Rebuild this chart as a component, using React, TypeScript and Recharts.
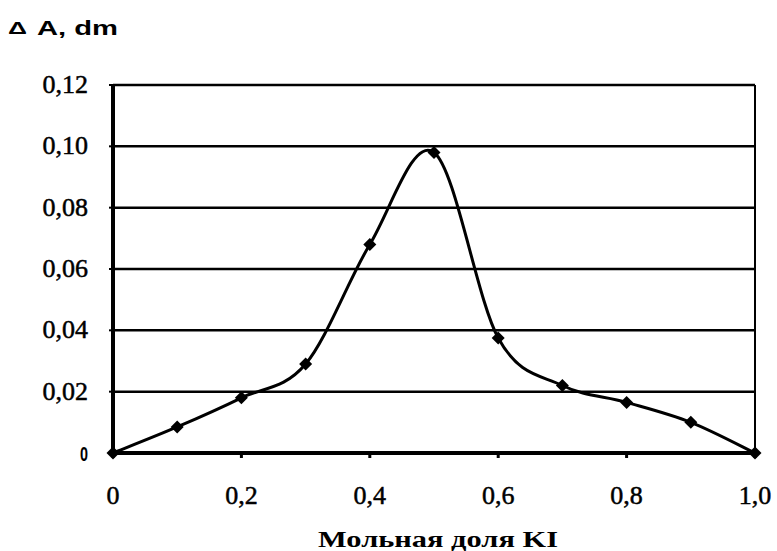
import React from "react";
import {
  LineChart,
  Line,
  XAxis,
  YAxis,
  CartesianGrid,
  ReferenceLine,
  Label,
} from "recharts";

// mole fraction of KI and measured ΔA
const moleFraction = [0, 0.1, 0.2, 0.3, 0.4, 0.5, 0.6, 0.7, 0.8, 0.9, 1.0];
const deltaA = [0, 0.0085, 0.018, 0.029, 0.068, 0.098, 0.0375, 0.022, 0.0165, 0.01, 0];

const xTicks = [0, 0.2, 0.4, 0.6, 0.8, 1.0];
const yTicks = [0, 0.02, 0.04, 0.06, 0.08, 0.1, 0.12];

const data = moleFraction.map((x, i) => ({ x, y: deltaA[i] }));

const SERIF = "'Liberation Serif', 'Times New Roman', serif";
const SANS = "'Liberation Sans', Arial, sans-serif";

// Excel-like smoothed line (Catmull-Rom through every point)
function smoothCurve(context: any) {
  let pts: number[][] = [];
  return {
    areaStart() {},
    areaEnd() {},
    lineStart() {
      pts = [];
    },
    point(x: number, y: number) {
      pts.push([x, y]);
    },
    lineEnd() {
      if (!pts.length) return;
      context.moveTo(pts[0][0], pts[0][1]);
      for (let i = 0; i < pts.length - 1; i++) {
        const p0 = pts[i - 1] || pts[i];
        const p1 = pts[i];
        const p2 = pts[i + 1];
        const p3 = pts[i + 2] || p2;
        context.bezierCurveTo(
          p1[0] + (p2[0] - p0[0]) / 6,
          p1[1] + (p2[1] - p0[1]) / 6,
          p2[0] - (p3[0] - p1[0]) / 6,
          p2[1] - (p3[1] - p1[1]) / 6,
          p2[0],
          p2[1]
        );
      }
    },
  };
}

function Diamond(props: any) {
  const { cx, cy } = props;
  if (cx == null || cy == null) return null;
  const s = 6.5;
  return (
    <polygon
      points={`${cx},${cy - s} ${cx + s},${cy} ${cx},${cy + s} ${cx - s},${cy}`}
      fill="#000"
    />
  );
}

function YTick(props: any) {
  const { x, y, payload } = props;
  const v = payload.value;
  if (v === 0) {
    return (
      <text
        x={x - 27}
        y={y + 8}
        textLength={8}
        lengthAdjust="spacingAndGlyphs"
        style={{ fontFamily: SANS, fontWeight: "bold", fontSize: 21, fill: "#000" }}
      >
        0
      </text>
    );
  }
  return (
    <text x={x - 19} y={y + 8} textAnchor="end" style={{ fontFamily: SERIF, fontSize: 26, fill: "#000", stroke: "#000", strokeWidth: 0.5 }}>
      {v.toFixed(2).replace(".", ",")}
    </text>
  );
}

function XTick(props: any) {
  const { x, y, payload } = props;
  const v = payload.value;
  const label = v === 0 ? "0" : v.toFixed(1).replace(".", ",");
  return (
    <text x={x} y={y + 44} textAnchor="middle" style={{ fontFamily: SERIF, fontSize: 26, fill: "#000", stroke: "#000", strokeWidth: 0.5 }}>
      {label}
    </text>
  );
}

function AxisTitle(props: any) {
  const { viewBox } = props;
  const cx = viewBox.x + viewBox.width / 2 + 4;
  return (
    <text
      x={cx - 120}
      y={547}
      textLength={240}
      lengthAdjust="spacingAndGlyphs"
      style={{ fontFamily: SERIF, fontWeight: "bold", fontSize: 23, fill: "#000" }}
    >
      Мольная доля KI
    </text>
  );
}

export default function App() {
  return (
    <div style={{ position: "absolute", left: 0, top: 0, width: 777, height: 551, background: "#fff" }}>
      <svg width={200} height={50} style={{ position: "absolute", left: 0, top: 0 }}>
        <text x={8} y={34} textLength={19} lengthAdjust="spacingAndGlyphs" style={{ fontFamily: SANS, fontWeight: "bold", fontSize: 17, fill: "#000" }}>
          Δ
        </text>
        <text x={37} y={35} textLength={81} lengthAdjust="spacingAndGlyphs" style={{ fontFamily: SANS, fontWeight: "bold", fontSize: 21, fill: "#000" }}>
          A, dm
        </text>
      </svg>
      <LineChart
        width={777}
        height={551}
        data={data}
        margin={{ top: 85, right: 22, bottom: 0, left: 0 }}
      >
        <CartesianGrid vertical={false} stroke="#000" strokeWidth={2.5} />
        <XAxis
          dataKey="x"
          type="number"
          domain={[0, 1]}
          ticks={xTicks}
          height={98}
          axisLine={{ stroke: "#000", strokeWidth: 4 }}
          tickLine={{ stroke: "#000", strokeWidth: 3 }}
          tickSize={5}
          tick={<XTick />}
          interval={0}
        >
          <Label content={<AxisTitle />} />
        </XAxis>
        <YAxis
          type="number"
          domain={[0, 0.12]}
          ticks={yTicks}
          width={113}
          axisLine={{ stroke: "#000", strokeWidth: 4 }}
          tickLine={{ stroke: "#000", strokeWidth: 2 }}
          tickSize={4}
          tick={<YTick />}
          interval={0}
        />
        <ReferenceLine x={1} stroke="#000" strokeWidth={2} />
        <Line
          dataKey="y"
          type={smoothCurve as any}
          stroke="#000"
          strokeWidth={3}
          dot={<Diamond />}
          activeDot={false}
          isAnimationActive={false}
        />
      </LineChart>
    </div>
  );
}
